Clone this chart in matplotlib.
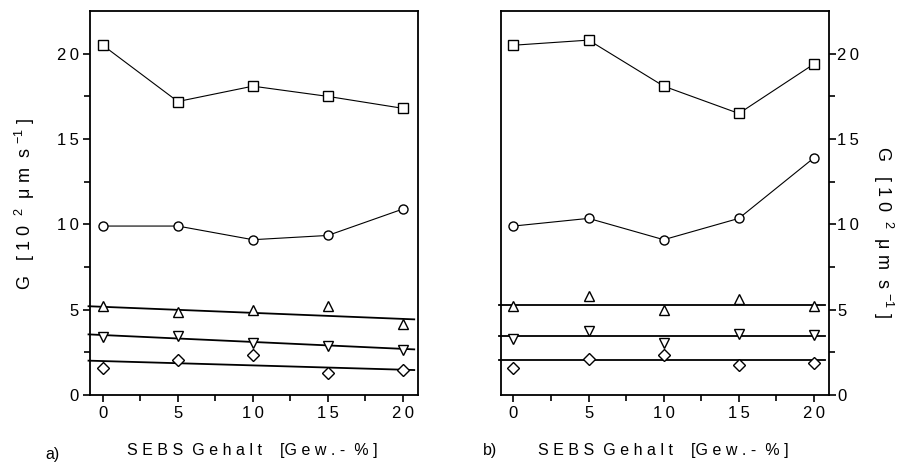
import matplotlib
import matplotlib.pyplot as plt
from matplotlib.ticker import FuncFormatter

matplotlib.use('Agg')
plt.rcParams['font.family'] = ['Liberation Sans', 'DejaVu Sans']
plt.rcParams['mathtext.fontset'] = 'custom'
plt.rcParams['mathtext.rm'] = 'Liberation Sans'

sebs = [0, 5, 10, 15, 20]
fit_x = [-0.95, 20.75]

# panel a)
a_square = [20.5, 17.2, 18.1, 17.5, 16.8]
a_circle = [9.9, 9.9, 9.1, 9.35, 10.9]
a_up = [5.2, 4.85, 4.95, 5.2, 4.15]
a_down = [3.4, 3.45, 3.05, 2.85, 2.65]
a_diamond = [1.6, 2.05, 2.35, 1.3, 1.45]
# straight trend lines, values at the ends of fit_x
a_up_fit = [5.2, 4.43]
a_down_fit = [3.55, 2.67]
a_diamond_fit = [2.01, 1.46]

# panel b)
b_square = [20.5, 20.8, 18.1, 16.5, 19.4]
b_circle = [9.9, 10.35, 9.1, 10.35, 13.9]
b_up = [5.2, 5.8, 4.95, 5.65, 5.2]
b_down = [3.25, 3.75, 3.05, 3.6, 3.5]
b_diamond = [1.6, 2.1, 2.35, 1.75, 1.9]
b_up_fit = [5.3, 5.3]
b_down_fit = [3.48, 3.48]
b_diamond_fit = [2.03, 2.03]

ylab = r'G   [ 1 0  $^{2}$  μ m  s $^{-1}$ ]'
xlab = 'S E B S  G e h a l t    [G e w . -  % ]'

spaced = FuncFormatter(lambda v, pos: '\u2009'.join('%d' % v))


def draw_panel(ax, series, fits, right):
    sq, ci, up, dn, di = series
    ax.plot(sebs, sq, '-', color='black', lw=0.8, marker='s', ms=6.5,
            mfc='white', mec='black', mew=1.0)
    ax.plot(sebs, ci, '-', color='black', lw=0.8, marker='o', ms=6.5,
            mfc='white', mec='black', mew=1.0)
    for vals, fit, mk in zip([up, dn, di], fits, ['^', 'v', 'D']):
        ax.plot(fit_x, fit, '-', color='black', lw=1.3, clip_on=False)
        ax.plot(sebs, vals, linestyle='none', marker=mk, ms=7 if mk != 'D' else 6.5,
                mfc='white', mec='black', mew=1.0)
    ax.set_xlim(-0.85, 21.0)
    ax.set_ylim(0, 22.5)
    ax.set_xticks([0, 5, 10, 15, 20])
    ax.set_xticks([2.5, 7.5, 12.5, 17.5], minor=True)
    ax.set_yticks([0, 5, 10, 15, 20])
    ax.set_yticks([2.5, 7.5, 12.5, 17.5], minor=True)
    ax.xaxis.set_major_formatter(spaced)
    ax.yaxis.set_major_formatter(spaced)
    ax.tick_params(which='major', direction='out', length=5, width=1.2, labelsize=12, pad=3)
    ax.tick_params(which='minor', direction='out', length=4, width=1.2)
    for sp in ax.spines.values():
        sp.set_linewidth(1.3)
    if right:
        ax.yaxis.tick_right()
        ax.tick_params(axis='y', which='both', pad=1)


fig = plt.figure(figsize=(9.02, 4.63), dpi=100)
ax1 = fig.add_axes([0.0998, 0.147, 0.3636, 0.829])
ax2 = fig.add_axes([0.5551, 0.147, 0.364, 0.829])

draw_panel(ax1, [a_square, a_circle, a_up, a_down, a_diamond],
           [a_up_fit, a_down_fit, a_diamond_fit], False)
draw_panel(ax2, [b_square, b_circle, b_up, b_down, b_diamond],
           [b_up_fit, b_down_fit, b_diamond_fit], True)

fig.text(0.028, 0.56, ylab, rotation=90, ha='center', va='center', fontsize=13)
fig.text(0.979, 0.50, ylab, rotation=-90, ha='center', va='center', fontsize=13)
fig.text(0.28, 0.028, xlab, ha='center', va='center', fontsize=11.5)
fig.text(0.735, 0.028, xlab, ha='center', va='center', fontsize=11.5)
fig.text(0.050, 0.018, 'a)', ha='left', va='center', fontsize=11.5)
fig.text(0.535, 0.028, 'b)', ha='left', va='center', fontsize=11.5)

plt.savefig('out.png', dpi=100)
plt.close()
